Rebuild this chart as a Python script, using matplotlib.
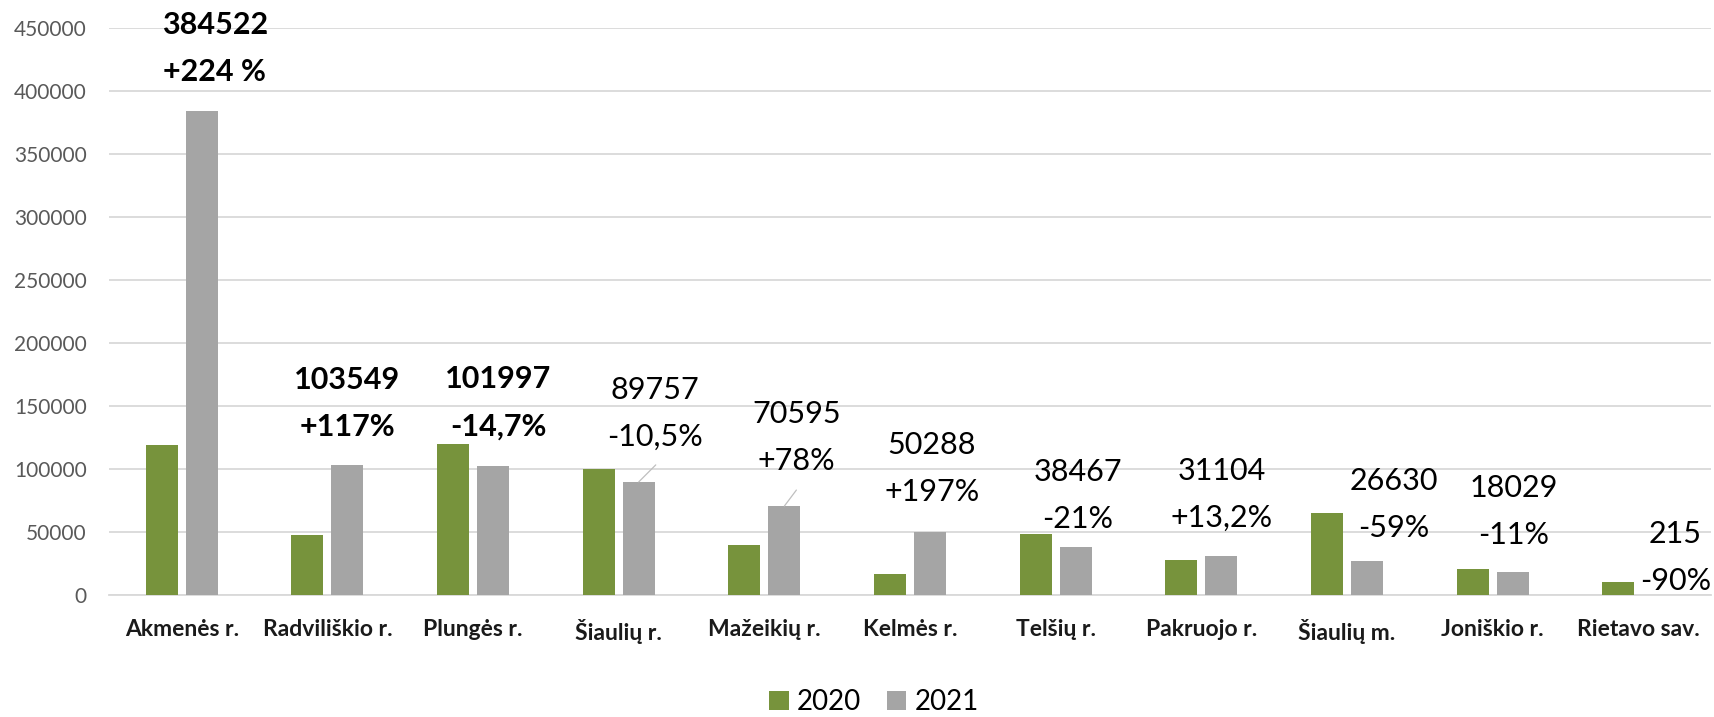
import matplotlib
matplotlib.use("Agg")
import matplotlib.pyplot as plt
import numpy as np

categories = ['Akmenės r.', 'Radviliškio r.', 'Plungės r.', 'Šiaulių r.', 'Mažeikių r.',
              'Kelmės r.', 'Telšių r.', 'Pakruojo r.', 'Šiaulių m.', 'Joniškio r.', 'Rietavo sav.']
values_2020 = [118700, 47700, 119600, 100300, 39700, 16900, 48700, 27500, 65000, 20300, 10000]
values_2021 = [384522, 103549, 101997, 89757, 70595, 50288, 38467, 31104, 26630, 18029, 215]
change_labels = ['+224 %', '+117%', '-14,7%', '-10,5%', '+78%', '+197%', '-21%', '+13,2%', '-59%', '-11%', '-90%']
bold_labels = [True, True, True, False, False, False, False, False, False, False, False]
yticks = [0, 50000, 100000, 150000, 200000, 250000, 300000, 350000, 400000, 450000]

# label placement (pixels relative to top of 2021 bar), tuned by eye
label_dx = [13, 0, 5, 16, 12, 2, 2, 0, 27, 1, 17]
label_dy = [86, 85, 87, 92, 92, 87, 75, 85, 80, 84, 61]
leaders = {3: (17, 17), 4: (12, 16)}

green = '#77933C'
grey = '#A5A5A5'
fnt = ['Lato', 'DejaVu Sans']

fig = plt.figure(figsize=(17.15, 7.17), dpi=100)
ax = fig.add_axes([109 / 1715, 122 / 717, 1602 / 1715, 567 / 717])

x = np.arange(len(categories))
w = 0.22
off = 0.1375
ax.bar(x - off, values_2020, w, color=green, label='2020', zorder=3)
ax.bar(x + off, values_2021, w, color=grey, label='2021', zorder=3)

ax.set_xlim(-0.5, len(categories) - 0.5)
ax.set_ylim(0, 450000)
ax.set_yticks(yticks)
ax.set_yticklabels([str(t) for t in yticks], family=fnt, fontsize=15, color='#595959')
ax.set_xticks(x)
ax.set_xticklabels(categories, family=fnt, fontsize=16.5, fontweight='bold', color='#1a1a1a')
ax.tick_params(axis='both', length=0)
ax.tick_params(axis='y', pad=16)
ax.tick_params(axis='x', pad=17)
ax.grid(axis='y', color='#d9d9d9', lw=1.3, zorder=0)
for s in ['top', 'right', 'left']:
    ax.spines[s].set_visible(False)
ax.spines['bottom'].set_color('#d9d9d9')
ax.spines['bottom'].set_linewidth(1.3)

for i in range(len(categories)):
    wt = 'bold' if bold_labels[i] else 'normal'
    xb = x[i] + off
    ax.annotate(str(values_2021[i]), xy=(xb, values_2021[i]),
                xytext=(label_dx[i], label_dy[i]), textcoords='offset pixels',
                ha='center', va='center', family=fnt, fontsize=22, fontweight=wt, color='black')
    ax.annotate(change_labels[i], xy=(xb, values_2021[i]),
                xytext=(label_dx[i], label_dy[i] - 47), textcoords='offset pixels',
                ha='center', va='center', family=fnt, fontsize=22, fontweight=wt, color='black')
    if i in leaders:
        ax.annotate('', xy=(xb, values_2021[i]), xytext=leaders[i], textcoords='offset pixels',
                    arrowprops=dict(arrowstyle='-', color='#bfbfbf', lw=0.9, shrinkA=0, shrinkB=0))

fig.legend(loc='center', bbox_to_anchor=(874 / 1715, 1 - 702 / 717), ncol=2, frameon=False,
           prop={'family': fnt, 'size': 20}, handlelength=0.7, handleheight=0.7,
           handletextpad=0.3, columnspacing=0.9)

fig.savefig('out.png', dpi=100)
